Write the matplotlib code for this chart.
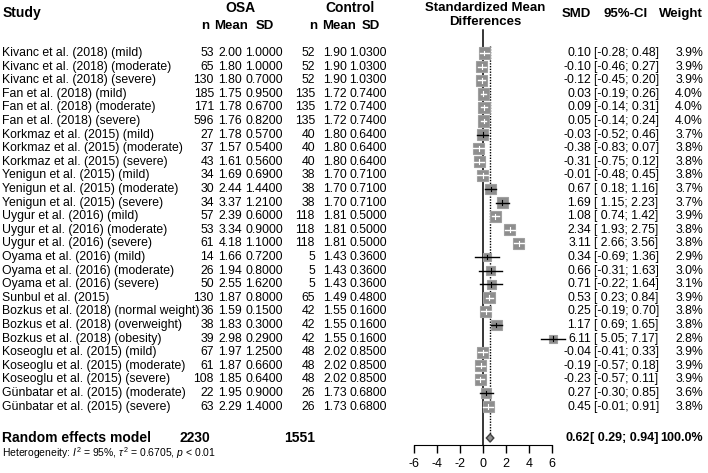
import numpy as np
import matplotlib.pyplot as plt
import matplotlib.transforms as mtransforms
from matplotlib.patches import Rectangle, Polygon

plt.rcParams['font.family'] = ['Liberation Sans', 'DejaVu Sans']
plt.rcParams['mathtext.fontset'] = 'custom'
plt.rcParams['mathtext.rm'] = 'Liberation Sans'
plt.rcParams['mathtext.it'] = 'Liberation Sans:italic'

# ==========================
# Dati
# ==========================
studi = [
    "Kivanc et al. (2018) (mild)", "Kivanc et al. (2018) (moderate)", "Kivanc et al. (2018) (severe)",
    "Fan et al. (2018) (mild)", "Fan et al. (2018) (moderate)", "Fan et al. (2018) (severe)",
    "Korkmaz et al. (2015) (mild)", "Korkmaz et al. (2015) (moderate)", "Korkmaz et al. (2015) (severe)",
    "Yenigun et al. (2015) (mild)", "Yenigun et al. (2015) (moderate)", "Yenigun et al. (2015) (severe)",
    "Uygur et al. (2016) (mild)", "Uygur et al. (2016) (moderate)", "Uygur et al. (2016) (severe)",
    "Oyama et al. (2016) (mild)", "Oyama et al. (2016) (moderate)", "Oyama et al. (2016) (severe)",
    "Sunbul et al. (2015)",
    "Bozkus et al. (2018) (normal weight)", "Bozkus et al. (2018) (overweight)", "Bozkus et al. (2018) (obesity)",
    "Koseoglu et al. (2015) (mild)", "Koseoglu et al. (2015) (moderate)", "Koseoglu et al. (2015) (severe)",
    "Günbatar et al. (2015) (moderate)", "Günbatar et al. (2015) (severe)",
]
osa_n = [53, 65, 130, 185, 171, 596, 27, 37, 43, 34, 30, 34, 57, 53, 61, 14, 26, 50, 130, 36, 38, 39, 67, 61, 108, 22, 63]
osa_mean = [2.00, 1.80, 1.80, 1.75, 1.78, 1.76, 1.78, 1.57, 1.61, 1.69, 2.44, 3.37, 2.39, 3.34, 4.18,
            1.66, 1.94, 2.55, 1.87, 1.59, 1.83, 2.98, 1.97, 1.87, 1.85, 1.95, 2.29]
osa_sd = [1.0, 1.0, 0.70, 0.95, 0.67, 0.82, 0.57, 0.54, 0.56, 0.69, 1.44, 1.21, 0.60, 0.90, 1.10,
          0.72, 0.80, 1.62, 0.80, 0.15, 0.30, 0.29, 1.25, 0.66, 0.64, 0.90, 1.40]
ctl_n = [52, 52, 52, 135, 135, 135, 40, 40, 40, 38, 38, 38, 118, 118, 118, 5, 5, 5, 65, 42, 42, 42, 48, 48, 48, 26, 26]
ctl_mean = [1.90, 1.90, 1.90, 1.72, 1.72, 1.72, 1.80, 1.80, 1.80, 1.70, 1.70, 1.70, 1.81, 1.81, 1.81,
            1.43, 1.43, 1.43, 1.49, 1.55, 1.55, 1.55, 2.02, 2.02, 2.02, 1.73, 1.73]
ctl_sd = [1.03, 1.03, 1.03, 0.74, 0.74, 0.74, 0.64, 0.64, 0.64, 0.71, 0.71, 0.71, 0.50, 0.50, 0.50,
          0.36, 0.36, 0.36, 0.48, 0.16, 0.16, 0.16, 0.85, 0.85, 0.85, 0.68, 0.68]
smd = [0.10, -0.10, -0.12, 0.03, 0.09, 0.05, -0.03, -0.38, -0.31, -0.01, 0.67, 1.69, 1.08, 2.34, 3.11,
       0.34, 0.66, 0.71, 0.53, 0.25, 1.17, 6.11, -0.04, -0.19, -0.23, 0.27, 0.45]
ci_low = [-0.28, -0.46, -0.45, -0.19, -0.14, -0.14, -0.52, -0.83, -0.75, -0.48, 0.18, 1.15, 0.74, 1.93, 2.66,
          -0.69, -0.31, -0.22, 0.23, -0.19, 0.69, 5.05, -0.41, -0.57, -0.57, -0.30, -0.01]
ci_high = [0.48, 0.27, 0.20, 0.26, 0.31, 0.24, 0.46, 0.07, 0.12, 0.45, 1.16, 2.23, 1.42, 2.75, 3.56,
           1.36, 1.63, 1.64, 0.84, 0.70, 1.65, 7.17, 0.33, 0.18, 0.11, 0.85, 0.91]
peso = [3.9, 3.9, 3.9, 4.0, 4.0, 4.0, 3.7, 3.8, 3.8, 3.8, 3.7, 3.7, 3.9, 3.8, 3.8,
        2.9, 3.0, 3.1, 3.9, 3.8, 3.8, 2.8, 3.9, 3.9, 3.9, 3.6, 3.8]

# modello a effetti casuali
tot_osa, tot_ctl = 2230, 1551
smd_re, lo_re, hi_re = 0.62, 0.29, 0.94
xticks = [-6, -4, -2, 0, 2, 4, 6]

# ==========================
# Figura
# ==========================
W, H = 708, 473
fig = plt.figure(figsize=(W / 100, H / 100), dpi=100)

row_px = 13.6           # distanza tra righe in pixel
y0_px = 53              # prima riga
ax_bottom_px = 445
y_top = -y0_px / row_px
y_bot = (ax_bottom_px - y0_px) / row_px

ax = fig.add_axes([414 / W, (H - ax_bottom_px) / H, 138 / W, ax_bottom_px / H])
ax.set_xlim(-6, 6)
ax.set_ylim(y_bot, y_top)
for s in ['top', 'right', 'left']:
    ax.spines[s].set_visible(False)
ax.spines['bottom'].set_bounds(-6, 6)
ax.set_yticks([])
ax.set_xticks(xticks)
ax.set_xticklabels([str(t) for t in xticks], fontsize=9)
ax.tick_params(axis='x', length=6, width=1, pad=3)
ax.patch.set_visible(False)

# trasformazione: x in pixel figura, y in righe
tr = mtransforms.blended_transform_factory(fig.transFigure, ax.transData)
def px(x):
    return x / W

def riga(y_pixel):
    return (y_pixel - y0_px) / row_px

n = len(studi)
pool_row = riga(438)
het_row = riga(453)

# linee verticali
ax.plot([0, 0], [riga(30), y_bot], color='black', lw=1.1, clip_on=False)
ax.plot([smd_re, smd_re], [riga(46), pool_row], color='black', lw=1, ls=(0, (1, 1)), clip_on=False)

# quadrati e intervalli di confidenza
x_per_px = 12 / 138
y_per_px = 1 / row_px
for i in range(n):
    h = 0.475 * peso[i] / 3.8               # meta-larghezza in unità SMD
    hy = h / x_per_px * y_per_px             # meta-altezza in righe
    inside = (smd[i] - ci_low[i] <= h) and (ci_high[i] - smd[i] <= h)
    ax.add_patch(Rectangle((smd[i] - h, i - hy), 2 * h, 2 * hy, facecolor='#8e8e8e',
                           edgecolor='#a0a0a0', lw=0.8, clip_on=False, zorder=3))
    col = 'white' if inside else 'black'
    ax.plot([ci_low[i], ci_high[i]], [i, i], color=col, lw=1, clip_on=False, zorder=4)
    ax.plot([smd[i], smd[i]], [i - 0.18, i + 0.18], color=col, lw=0.8, clip_on=False, zorder=4)

# diamante
dh = 0.3
ax.add_patch(Polygon([[lo_re, pool_row], [smd_re, pool_row - dh], [hi_re, pool_row], [smd_re, pool_row + dh]],
                     closed=True, facecolor='#8e8e8e', edgecolor='#404040', lw=1, clip_on=False, zorder=3))

# ==========================
# Testi
# ==========================
fs = 8.8
hb = dict(transform=tr, fontweight='bold', va='center')
# intestazioni
ax.text(px(3), riga(13), "Study", fontsize=10, ha='left', **hb)
ax.text(px(240), riga(8), "OSA", fontsize=10, ha='center', **hb)
ax.text(px(350), riga(8), "Control", fontsize=10, ha='center', **hb)
for xc, lab in [(205, "n"), (231, "Mean"), (265, "SD"), (313, "n"), (339, "Mean"), (371, "SD")]:
    ax.text(px(xc), riga(26), lab, fontsize=9.5, ha='center', **hb)
ax.text(px(485), riga(8), "Standardized Mean", fontsize=9.5, ha='center', **hb)
ax.text(px(485), riga(22), "Differences", fontsize=9.5, ha='center', **hb)
ax.text(px(576), riga(14), "SMD", fontsize=9.5, ha='center', **hb)
ax.text(px(626), riga(14), "95%-CI", fontsize=9.5, ha='center', **hb)
ax.text(px(703), riga(14), "Weight", fontsize=9.5, ha='right', **hb)

def fmt_ci(lo, hi):
    s_lo = f"{lo:.2f}" if lo < 0 else f" {lo:.2f}"
    return f"[{s_lo}; {hi:.2f}]"

for i in range(n):
    kw = dict(transform=tr, fontsize=fs, va='center')
    ax.text(px(2), i, studi[i], ha='left', **kw)
    ax.text(px(214), i, f"{osa_n[i]}", ha='right', **kw)
    ax.text(px(242), i, f"{osa_mean[i]:.2f}", ha='right', **kw)
    ax.text(px(283), i, f"{osa_sd[i]:.4f}", ha='right', **kw)
    ax.text(px(315), i, f"{ctl_n[i]}", ha='right', **kw)
    ax.text(px(347), i, f"{ctl_mean[i]:.2f}", ha='right', **kw)
    ax.text(px(387), i, f"{ctl_sd[i]:.4f}", ha='right', **kw)
    ax.text(px(591), i, f"{smd[i]:.2f}", ha='right', **kw)
    ax.text(px(594), i, fmt_ci(ci_low[i], ci_high[i]), ha='left', **kw)
    ax.text(px(703), i, f"{peso[i]:.1f}%", ha='right', **kw)

# riga del modello
kwb = dict(transform=tr, fontweight='bold', va='center')
ax.text(px(2), pool_row, "Random effects model", fontsize=10, ha='left', **kwb)
ax.text(px(210), pool_row, f"{tot_osa}", fontsize=10, ha='right', **kwb)
ax.text(px(315), pool_row, f"{tot_ctl}", fontsize=10, ha='right', **kwb)
ax.text(px(590), pool_row, f"{smd_re:.2f}", fontsize=9, ha='right', **kwb)
ax.text(px(590), pool_row, fmt_ci(lo_re, hi_re), fontsize=9, ha='left', **kwb)
ax.text(px(703), pool_row, "100.0%", fontsize=9, ha='right', **kwb)
ax.text(px(2), het_row, r"Heterogeneity: $I^2$ = 95%, $\tau^2$ = 0.6705, $p$ < 0.01", transform=tr,
        fontsize=7.5, va='center', ha='left')

plt.savefig("out.png", dpi=100)
plt.close()
